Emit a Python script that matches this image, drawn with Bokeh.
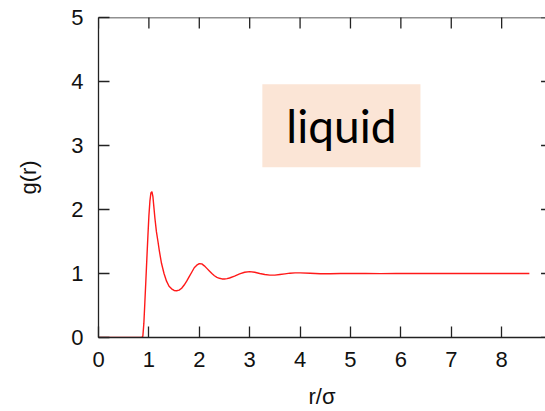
from bokeh.plotting import figure
from bokeh.models import Label, Range1d, FixedTicker, Span
from bokeh.embed import file_html
from bokeh.resources import INLINE
import math

# Radial distribution function of a simple liquid
r_sigma = [0.00, 0.86, 0.88, 0.90, 0.92, 0.94, 0.96, 0.98, 1.00, 1.02,
           1.04, 1.06, 1.08, 1.10, 1.12, 1.15, 1.18, 1.21, 1.25, 1.30,
           1.35, 1.40, 1.45, 1.50, 1.55, 1.60, 1.65, 1.70, 1.75, 1.80,
           1.85, 1.90, 1.95, 2.00, 2.05, 2.10, 2.15, 2.20, 2.25, 2.30,
           2.35, 2.40, 2.45, 2.50, 2.55, 2.60, 2.70, 2.80, 2.90, 3.00,
           3.10, 3.20, 3.30, 3.40, 3.50, 3.60, 3.70, 3.80, 3.90, 4.00,
           4.20, 4.40, 4.60, 4.80, 5.00, 5.30, 5.60, 5.90, 6.20, 6.50,
           6.80, 7.10, 7.40, 7.70, 8.00, 8.30, 8.55]
g_r = [0.00, 0.00, 0.02, 0.22, 0.55, 0.89, 1.24, 1.58, 1.90, 2.13,
       2.26, 2.28, 2.20, 2.03, 1.86, 1.65, 1.50, 1.34, 1.16, 1.00,
       0.88, 0.80, 0.76, 0.735, 0.73, 0.74, 0.77, 0.82, 0.88, 0.95,
       1.02, 1.09, 1.13, 1.155, 1.15, 1.12, 1.08, 1.04, 1.00, 0.965,
       0.94, 0.925, 0.915, 0.915, 0.92, 0.93, 0.96, 0.995, 1.02, 1.03,
       1.02, 1.00, 0.985, 0.975, 0.975, 0.985, 0.995, 1.005, 1.01, 1.01,
       1.005, 0.995, 0.995, 1.00, 1.00, 1.002, 0.998, 1.00, 1.001, 0.999,
       1.00, 1.00, 0.999, 1.001, 1.00, 1.00, 1.00]

x_ticks = [0, 1, 2, 3, 4, 5, 6, 7, 8]
y_ticks = [0, 1, 2, 3, 4, 5]
x_border = 9.0   # right border of the box (just past the visible area)
y_border = 5.0
phase_label = "liquid"

TICK_FONT = "Liberation Sans"
INK = "#222222"

p = figure(width=545, height=411, output_backend="svg", toolbar_location=None,
           x_range=Range1d(0, 8.87), y_range=Range1d(0, y_border),
           x_axis_label="r/σ", y_axis_label="g(r)",
           min_border_left=98, min_border_top=17, min_border_bottom=74,
           min_border_right=0)
p.outline_line_color = None
p.grid.visible = False
p.background_fill_color = "white"
p.border_fill_color = "white"

for ax in (p.xaxis[0], p.yaxis[0]):
    ax.axis_line_color = INK
    ax.axis_line_width = 1.3
    ax.major_tick_line_color = INK
    ax.major_tick_line_width = 1.3
    ax.major_tick_in = 11
    ax.major_tick_out = 0
    ax.minor_tick_line_color = None
    ax.major_label_text_font = TICK_FONT
    ax.major_label_text_font_size = "22px"
    ax.major_label_text_color = "#111111"
    ax.axis_label_text_font = TICK_FONT
    ax.axis_label_text_font_size = "22px"
    ax.axis_label_text_font_style = "normal"
    ax.axis_label_text_color = "#111111"

p.xaxis[0].ticker = FixedTicker(ticks=x_ticks)
p.yaxis[0].ticker = FixedTicker(ticks=y_ticks)
p.xaxis[0].major_label_standoff = 14
p.xaxis[0].axis_label_standoff = 14
p.yaxis[0].major_label_standoff = 15
p.yaxis[0].axis_label_standoff = 27

# Top border line
p.add_layout(Span(location=y_border, dimension="width", line_color=INK,
                  line_width=1.3))

# Mirrored tick marks on the top and right borders (half of each dash is
# clipped away by the frame, leaving an inward tick)
p.scatter(x_ticks, [y_border] * len(x_ticks), marker="dash", size=22,
          angle=math.pi / 2, line_color=INK, line_width=1.3)
p.scatter([x_border] * len(y_ticks), y_ticks, marker="dash", size=22,
          line_color=INK, line_width=1.3)

p.line(r_sigma, g_r, line_color="#ff0000", line_width=1.4, line_alpha=0.9)

p.add_layout(Label(x=4.82, y=3.31, text=phase_label, text_font="Lato",
                   text_font_size="46px", text_color="#000000",
                   text_align="center", text_baseline="middle",
                   background_fill_color="#FBE5D6",
                   padding=dict(left=24, right=24, top=14, bottom=14)))

open("out.html", "w").write(file_html(p, INLINE))
